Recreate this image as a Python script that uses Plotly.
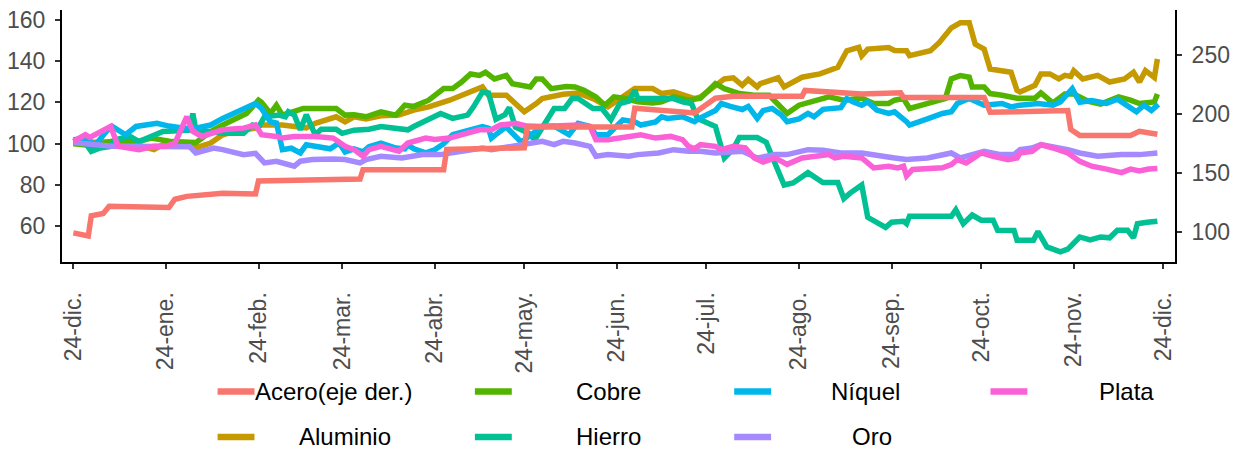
import pandas as pd
import plotly.graph_objects as go

# Índices de precios de metales (base 100 = 24-dic.); el acero va en el eje derecho
inicio = pd.Timestamp("2022-12-24")

series = ["Acero(eje der.)", "Aluminio", "Cobre", "Hierro", "Níquel", "Oro", "Plata"]
colores = ["#F8766D", "#C49A00", "#53B400", "#00C094", "#00B6EB", "#A58AFF", "#FB61D7"]

# Días transcurridos desde el inicio y valor de cada serie
dias_acero = [0, 5, 6, 10, 12, 32, 34, 38, 50, 61, 62, 96, 97, 124, 125, 151, 152, 187, 188,
              208, 215, 221, 244, 245, 264, 277, 278, 305, 307, 333, 334, 337, 354, 357, 363]
acero = [99.5, 97, 114, 116, 122, 121, 128, 130.4, 133, 132.5, 143.4, 145, 153, 153, 170, 171.5, 189, 189, 205,
         201, 213.5, 215, 215, 220, 217, 218, 214, 214, 201.5, 203, 187, 182, 182, 185.5, 183]

dias_aluminio = [0, 14, 19, 27, 30, 33, 41, 46, 50, 54, 61, 63, 70, 78, 81, 88, 91, 94, 98, 103, 109, 114,
                 119, 126, 137, 139, 145, 151, 155, 157, 164, 169, 174, 179, 184, 188, 194, 197, 201, 208,
                 210, 218, 221, 224, 226, 229, 230, 236, 238, 244, 250, 256, 259, 263, 264, 266, 273, 275,
                 279, 280, 287, 290, 294, 297, 300, 302, 305, 307, 314, 316, 317, 322, 324, 327, 330, 332,
                 334, 335, 338, 343, 347, 352, 355, 357, 359, 362, 363]
aluminio = [100.3, 101, 100.3, 97.1, 99.5, 100.3, 98, 100.3, 104.3, 105.9, 107.5, 109, 109, 107.6, 109.8,
            113, 110.5, 113, 112, 113.5, 113.8, 116.2, 117.8, 121, 127.4, 123.4, 123.4, 115.4, 119.4, 121.8,
            123.9, 124.5, 121.8, 117.8, 122.6, 126.6, 126.6, 124.2, 125, 121.8, 122.6, 131.3, 131.8, 128.2,
            131, 127.4, 129, 131.8, 127.4, 132.1, 133.7, 136.9, 144.9, 146.5, 142.5, 145.7, 146.5, 145,
            144.9, 142.5, 144.9, 148.9, 156, 158.4, 158.4, 148.1, 145.7, 136.1, 134.5, 125.8, 125, 128.2,
            133.7, 133.7, 131.3, 133, 132.5, 135.3, 131.3, 133, 129.8, 131.3, 134.5, 129.8, 135.3, 132, 140.9]

dias_cobre = [0, 7, 14, 21, 26, 33, 41, 46, 50, 58, 62, 63, 66, 68, 70, 77, 82, 88, 91, 94, 98, 103, 108,
              111, 114, 119, 124, 127, 130, 133, 136, 138, 141, 145, 147, 153, 155, 157, 160, 165, 168, 171,
              175, 178, 181, 185, 189, 194, 197, 201, 206, 210, 215, 218, 223, 228, 233, 236, 239, 243, 247,
              250, 253, 258, 264, 268, 273, 275, 278, 280, 286, 292, 294, 297, 300, 301, 305, 307, 311, 314,
              316, 322, 324, 328, 332, 335, 340, 344, 350, 354, 357, 362, 363]
cobre = [100, 99, 101.5, 100.7, 102.7, 101, 100.5, 105.9, 109, 114.6, 121, 120, 114.6, 118.6, 113.8, 117,
         117, 117, 113.8, 114, 113, 115.4, 113.8, 118.6, 118, 121, 126.6, 126.6, 129.8, 133.7, 133, 134.5,
         131.3, 133, 129, 127.4, 131.3, 131.3, 126.6, 127.6, 127.4, 125.8, 122.6, 118.6, 122.6, 121.8, 120.2,
         119.6, 120.2, 122.6, 121, 122, 129, 126.6, 124.2, 123.4, 123.4, 118.6, 114.6, 118.6, 120.2, 121,
         122.6, 121, 122, 119.4, 119.4, 121, 121.8, 117, 119.4, 121.8, 131.3, 132.9, 132.1, 127.4, 127.4,
         124.2, 123.4, 122.6, 122, 122, 124.5, 119.7, 124, 124, 120.4, 119.1, 122.6, 121, 119.4, 120.2, 124]

dias_hierro = [0, 4, 6, 9, 12, 14, 19, 22, 26, 30, 39, 40, 41, 50, 57, 60, 62, 64, 69, 71, 72, 74, 76, 78,
               81, 83, 88, 90, 94, 99, 103, 108, 112, 114, 120, 123, 127, 132, 134, 137, 139, 141.5, 144.5,
               146, 148, 152.5, 154.5, 159, 161, 164.5, 167, 169, 174, 177, 180, 183, 186, 188, 189, 201,
               204, 207, 209, 215, 218, 221, 223, 229, 232, 238, 241, 246, 251, 256, 258, 260, 264, 266,
               272, 274, 278, 279, 280, 294, 295.5, 298, 301, 304, 308, 309.5, 315, 316, 321.5, 323, 326,
               330.5, 333, 337, 340.5, 344, 347, 349.6, 353, 355, 356.3, 359.6, 363]
hierro = [100.3, 100.5, 96.3, 97.9, 98.5, 101.9, 103.5, 101, 103.5, 105.9, 106.5, 114.6, 106.7, 105, 105,
          109, 108, 113, 113.8, 113, 115.4, 113.8, 106.7, 114, 104.3, 107, 107, 105, 106.5, 107, 108.3,
          107.6, 106.7, 108.3, 112.2, 114.6, 112.2, 113.8, 117.8, 125, 124.5, 111.8, 114, 117.5, 108, 105,
          101.9, 113, 117, 117, 121.8, 121.8, 117, 117, 111.5, 119.4, 120.5, 125.8, 121.8, 121.8, 120.2,
          119.4, 112.2, 108.3, 93.1, 97.5, 103, 103, 100.7, 80, 81, 86, 81.2, 81.2, 73.5, 76, 80, 64.4,
          59.5, 62, 62.5, 61.3, 64.9, 64.9, 68, 61.3, 65.5, 63, 63, 58.1, 58, 53.3, 53.3, 57.5, 50.1, 47.7,
          49, 54.9, 53.5, 54.9, 54.5, 58.1, 58.1, 54.5, 61.3, 62, 62.5]

dias_niquel = [0, 4, 7.5, 11, 13, 17.5, 21, 28, 32, 37, 41, 46, 50, 58, 61, 63, 66, 68, 70, 73, 76, 78, 82,
               86, 89, 91, 94, 97, 99, 103, 108, 111, 112, 114, 118, 121, 124, 127, 131, 137, 139, 140, 142,
               145, 146, 150, 157, 161, 166, 169, 173, 175, 179, 184, 188, 190, 195, 197, 199, 204, 208, 210,
               215, 217, 220, 224, 226, 229, 231, 234, 237, 239, 243, 246, 248, 251, 257, 259, 261, 264, 266,
               269, 273, 275, 279, 280, 286, 291, 294, 296, 300, 303, 305, 311, 314, 317, 323, 328, 330.5,
               334.5, 337, 341, 346, 349.6, 353, 356, 358.5, 361, 363.3]
niquel = [101.9, 102.5, 99.5, 105.9, 108.3, 104.3, 108.3, 109.8, 108.5, 107.5, 107.5, 109, 112.2, 117.8,
          119.4, 117, 110.6, 110, 97.1, 97.8, 95.5, 99.5, 98.5, 97.5, 100.3, 96, 97.5, 96, 98.5, 100.3, 97.9,
          97.5, 99.5, 97.5, 95.5, 97, 100, 104.3, 105.9, 108.3, 107.5, 102.7, 105, 108.3, 106.5, 100.7, 108.3,
          108.5, 104.3, 109.8, 108.3, 104.3, 104.3, 111.5, 110.5, 109, 110.5, 113, 112.2, 113, 110.6, 112.5,
          116, 119.4, 118, 116.5, 118, 112.2, 116, 117, 114, 110.6, 112, 114.6, 113, 116.6, 117.4, 121.8,
          120.2, 118.6, 120.2, 116.2, 114.6, 115.4, 110.6, 109, 112, 114.6, 115.4, 119.4, 121.8, 120.2,
          118.6, 119.4, 117.8, 118.6, 119.4, 118.6, 120.2, 126.6, 120, 120.8, 119.4, 121.5, 118.6, 115.4,
          118.6, 116, 119]

dias_oro = [0, 4, 13, 19, 27, 39, 41, 43, 47, 50, 57, 61, 64, 68, 70, 74, 76, 80, 87, 91, 96, 98, 103, 110,
            117, 123, 130, 137, 140, 146, 151, 157, 161, 164, 168, 173, 175, 179, 186, 189, 196, 201, 206,
            210, 215, 224, 229, 235, 239, 246, 251, 257, 264, 270, 275, 279, 286, 294, 297, 301, 305, 310.5,
            315, 317, 321, 324, 328, 333, 337, 343, 351, 357, 363]
oro = [100.5, 100, 98.7, 98.7, 98.5, 98.5, 95.5, 96.3, 97.9, 97.1, 94.7, 95.3, 90.7, 91.5, 90.7, 89.1,
       91.5, 92.3, 92.6, 92.3, 90.7, 92.3, 93.9, 93.1, 94.7, 94.7, 96.3, 97.9, 97.1, 98.7, 99.5, 101.1,
       99.5, 101.1, 100.3, 98.7, 93.9, 94.7, 93.9, 94.7, 95.5, 97.1, 96.3, 96.3, 95.5, 96.3, 93.1, 94.7,
       94.7, 97.1, 96.8, 95.5, 95.5, 93.9, 93.1, 92.3, 93.1, 95.5, 93.1, 94.7, 96.3, 94.7, 94.7, 97.1,
       97.9, 99.5, 98.7, 97.1, 95.5, 93.9, 94.7, 94.7, 95.5]

dias_plata = [0, 4, 5.5, 10, 12.5, 15, 19, 22, 27, 31, 34, 38, 40, 43, 50, 57, 61, 63, 68, 70, 74, 81, 87,
              91, 94, 97, 99, 103, 109, 112, 118, 121, 126, 130, 136, 140, 143, 148, 152, 157, 164, 169, 173,
              175, 179, 184, 190, 195, 200, 204, 206, 208, 210, 215, 217, 221, 225, 228, 231, 235, 239, 244,
              248, 253, 255, 258, 264, 268, 273, 276, 278, 279, 281, 291, 294, 296, 299, 304, 308, 313, 316,
              317, 321, 324, 328, 333, 337, 341, 346, 351, 354, 357, 360, 363]
plata = [101.1, 104.3, 103, 106.7, 108.3, 98.7, 97.9, 97.1, 98.7, 98.7, 100.3, 113, 106, 103.5, 106.7,
         107.5, 109, 104.3, 103.5, 102.7, 103.5, 103.5, 102.7, 98.7, 97.1, 93.9, 97.1, 98.7, 96.3, 100.3,
         102.7, 102, 102.7, 104.3, 106.7, 106.7, 109, 109.8, 108.5, 108.3, 109, 109, 108.3, 101.9, 101.9,
         102.7, 104.3, 102.7, 103.5, 101.9, 98.7, 97.5, 99.5, 98.7, 97.1, 98.7, 98, 93.1, 91.1, 93.1, 90,
         93.1, 93.9, 94.7, 93.1, 93.9, 93.1, 88.3, 89.1, 88.3, 89.1, 84.4, 87.5, 88.3, 89.9, 92.3, 90.7,
         95.5, 93.9, 92.3, 93.1, 95.5, 96.3, 99.5, 97.9, 95.5, 91.5, 89.1, 87.7, 86, 87.7, 86.8, 87.7, 88]

datos = [
    (dias_acero, acero),
    (dias_aluminio, aluminio),
    (dias_cobre, cobre),
    (dias_hierro, hierro),
    (dias_niquel, niquel),
    (dias_oro, oro),
    (dias_plata, plata),
]

# Marcas del eje x: el día 24 de cada mes
meses = ["dic.", "ene.", "feb.", "mar.", "abr.", "may.", "jun.", "jul.", "ago.", "sep.", "oct.", "nov.", "dic."]
etiquetas_x = ["24-" + m for m in meses]
fechas_x = pd.date_range(inicio, periods=len(meses), freq=pd.DateOffset(months=1))

ticks_izq = [60, 80, 100, 120, 140, 160]
ticks_der = [100, 150, 200, 250]
factor_der = 1.75          # relación eje derecho / eje izquierdo
rango_izq = [42.8, 164.6]

fig = go.Figure()
for nombre, color, (dias, valores) in zip(series, colores, datos):
    fechas = inicio + pd.to_timedelta(dias, unit="D")
    fig.add_trace(go.Scatter(
        x=fechas, y=valores, name=nombre, mode="lines",
        line=dict(color=color, width=5.5),
        yaxis="y2" if nombre.startswith("Acero") else "y",
        hoverinfo="skip",
    ))

# Geometría de la figura (px)
W, H = 1239, 456
izq, der, arriba, abajo = 59, 1175, 7, 262
ancho_panel, alto_panel = der - izq, abajo - arriba

def px_x(x):
    return (x - izq) / ancho_panel

def px_y(y):
    return (abajo - y) / alto_panel

fuente = "Liberation Sans, Arial, sans-serif"
estilo_eje = dict(
    showline=True, linecolor="black", linewidth=2,
    ticks="outside", ticklen=5, tickwidth=1.5, tickcolor="#333333",
    showgrid=False, zeroline=False,
    tickfont=dict(family=fuente, size=23, color="#4D4D4D"),
)

fig.update_layout(
    width=W, height=H,
    margin=dict(l=izq, r=W - der, t=arriba, b=H - abajo, pad=0),
    paper_bgcolor="white", plot_bgcolor="white",
    showlegend=False,
    xaxis=dict(
        type="date",
        range=[inicio - pd.Timedelta(days=3.8), inicio + pd.Timedelta(days=368.9)],
        tickvals=fechas_x, ticktext=etiquetas_x, tickangle=-90,
        ticklabelstandoff=14,
        **estilo_eje,
    ),
    yaxis=dict(range=rango_izq, tickvals=ticks_izq, ticklabelstandoff=5, **estilo_eje),
    yaxis2=dict(
        range=[v * factor_der for v in rango_izq], tickvals=ticks_der,
        overlaying="y", side="right", ticklabelstandoff=5, **estilo_eje,
    ),
)

# Leyenda en dos filas y cuatro columnas, con el texto centrado junto a cada clave
clave_x = [215, 473, 733, 990]
fila_y = [393, 439]
centro_texto = {
    "Acero(eje der.)": 331, "Aluminio": 343,
    "Cobre": 607, "Hierro": 607,
    "Níquel": 865, "Oro": 871,
    "Plata": 1126,
}
for i, (nombre, color) in enumerate(zip(series, colores)):
    col, fila = divmod(i, 2)
    y = px_y(fila_y[fila])
    fig.add_shape(
        type="line", xref="paper", yref="paper",
        x0=px_x(clave_x[col]), x1=px_x(clave_x[col] + 37), y0=y, y1=y,
        line=dict(color=color, width=6.5),
    )
    fig.add_annotation(
        xref="paper", yref="paper", x=px_x(centro_texto[nombre]), y=y,
        text=nombre, showarrow=False, xanchor="center", yanchor="middle",
        font=dict(family=fuente, size=24, color="black"),
    )

fig.write_html("out.html")
